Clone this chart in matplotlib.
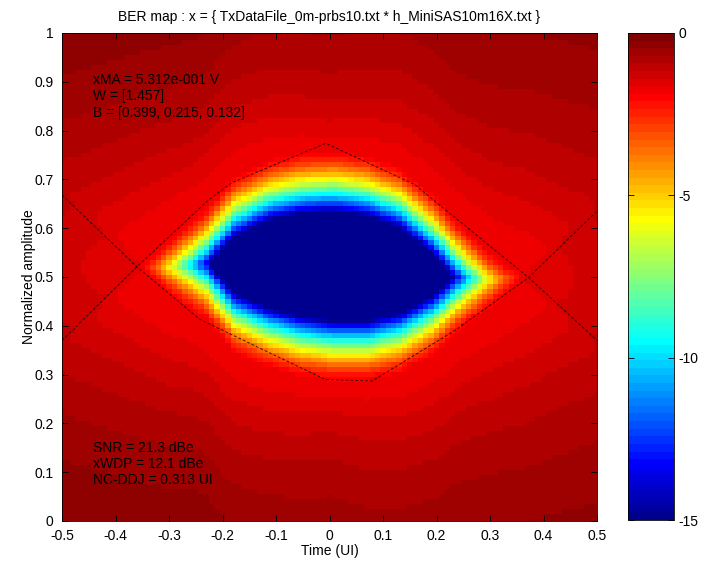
import numpy as np
import matplotlib
matplotlib.use('Agg')
import matplotlib.pyplot as plt
from matplotlib.colors import ListedColormap

plt.rcParams['font.family'] = ['Liberation Sans', 'DejaVu Sans']
plt.rcParams['font.size'] = 10

# dashed eye lines, vertices
upper_t = [-0.5, -0.36, -0.226, -0.183, -0.007, 0.16, 0.194, 0.372, 0.5]
upper_v = [0.37, 0.521, 0.658, 0.693, 0.774, 0.689, 0.658, 0.499, 0.37]
lower_t = [-0.5, -0.36, -0.242, -0.008, 0.08, 0.235, 0.372, 0.5]
lower_v = [0.668, 0.521, 0.413, 0.29, 0.287, 0.391, 0.499, 0.635]

# inner rails of the BER map (from the -15 / -5 contours of the picture)
rail_t = [-0.5, -0.36, -0.304, -0.23, -0.18, -0.117, -0.055, 0.007, 0.07, 0.132, 0.194, 0.238, 0.303, 0.372, 0.5]
rail1_v = [0.37, 0.521, 0.576, 0.645, 0.707, 0.741, 0.756, 0.760, 0.751, 0.727, 0.672, 0.617, 0.550, 0.499, 0.37]
rail0_v = [0.668, 0.521, 0.464, 0.409, 0.343, 0.312, 0.293, 0.284, 0.284, 0.299, 0.337, 0.381, 0.438, 0.499, 0.635]

# fall off of log10(BER) inside the eye: floor - k * d**p
floor_log = -1.8
k_fall = 327.0
p_fall = 1.55
w_worst = 0.032
# spread of the outer levels
spread_t = [-0.5, -0.25, 0.0, 0.25, 0.5]
spread_D = [0.62, 0.43, 0.45, 0.50, 0.70]
spread_p = [3.0, 2.2, 1.5, 2.0, 2.5]

time_ui = np.round(np.arange(-0.5, 0.5001, 0.01), 3)
amp = np.round(np.arange(0.0, 1.0001, 0.01), 3)

info_top = ["xMA = 5.312e-001 V", "W = [1.457]", "B = [0.399, 0.215, 0.132]"]
info_bot = ["SNR = 21.3 dBe", "xWDP = 12.1 dBe", "NC-DDJ = 0.313 UI"]
title = "BER map : x = { TxDataFile_0m-prbs10.txt * h_MiniSAS10m16X.txt }"

T, V = np.meshgrid(time_ui, amp)
M1 = np.interp(T, rail_t, rail1_v)
M0 = np.interp(T, rail_t, rail0_v)
D = np.interp(T, spread_t, spread_D)
P = np.interp(T, spread_t, spread_p)

d1 = np.clip(M1 - V, 0, None)
d0 = np.clip(V - M0, 0, None)
ber1 = 10 ** (floor_log - k_fall * d1 ** p_fall) + 0.5 * (1 - w_worst) * np.clip((V - M1) / D, 0, 1) ** P
ber0 = 10 ** (floor_log - k_fall * d0 ** p_fall) + 0.5 * (1 - w_worst) * np.clip((M0 - V) / D, 0, 1) ** P
logber = np.clip(np.log10(ber1 + ber0 + 1e-300), -15, 0)

# matlab style jet(64)
n = 16
u = np.concatenate([np.arange(1, n + 1) / n, np.ones(n - 1), np.arange(n, 0, -1) / n])
g = 8 + np.arange(1, len(u) + 1)
jet = np.zeros((64, 3))
for col, idx in ((0, g + n), (1, g), (2, g - n)):
    ok = (idx >= 1) & (idx <= 64)
    jet[idx[ok] - 1, col] = u[ok]
cmap = ListedColormap(jet)

fig = plt.figure(figsize=(7.12, 5.61), dpi=100)
ax = fig.add_axes([62/712, 40/561, 535/712, 488/561])
mesh = ax.pcolormesh(time_ui, amp, logber, cmap=cmap, vmin=-15, vmax=0, shading='nearest')
ax.plot(upper_t, upper_v, color='k', lw=0.7, dashes=(3, 2), alpha=0.75)
ax.plot(lower_t, lower_v, color='k', lw=0.7, dashes=(3, 2), alpha=0.75)
ax.set_xlim(-0.5, 0.5)
ax.set_ylim(0, 1)
ax.set_xticks(np.round(np.arange(-0.5, 0.51, 0.1), 1))
ax.set_xticklabels(['-0.5', '-0.4', '-0.3', '-0.2', '-0.1', '0', '0.1', '0.2', '0.3', '0.4', '0.5'])
ax.set_yticks(np.round(np.arange(0, 1.01, 0.1), 1))
ax.set_yticklabels(['0', '0.1', '0.2', '0.3', '0.4', '0.5', '0.6', '0.7', '0.8', '0.9', '1'])
ax.tick_params(direction='in', top=True, right=True, length=4, width=0.6)
ax.tick_params(axis='x', pad=6)
ax.tick_params(axis='y', pad=6)
for sp in ax.spines.values():
    sp.set_linewidth(0.6)

for i, s in enumerate(info_top):
    ax.text(-0.442, 0.904 - i * 0.034, s, va='center', ha='left')
for i, s in enumerate(info_bot):
    ax.text(-0.442, 0.149 - i * 0.0325, s, va='center', ha='left')

fig.text(329.5/712, 1 - 17/561, title, ha='center', va='center')
fig.text(329.5/712, 1 - 551/561, "Time (UI)", ha='center', va='center')
fig.text(29/712, 1 - 277/561, "Normalized amplitude", ha='center', va='center', rotation=90)

cax = fig.add_axes([628/712, 41/561, 46/712, 487/561])
cb = fig.colorbar(mesh, cax=cax, ticks=[0, -5, -10, -15])
cb.ax.set_yticklabels(['0', '-5', '-10', '-15'])
cb.ax.tick_params(direction='in', left=True, right=True, length=4, width=0.6)
cb.outline.set_linewidth(0.6)

fig.savefig('out.png', dpi=100)
